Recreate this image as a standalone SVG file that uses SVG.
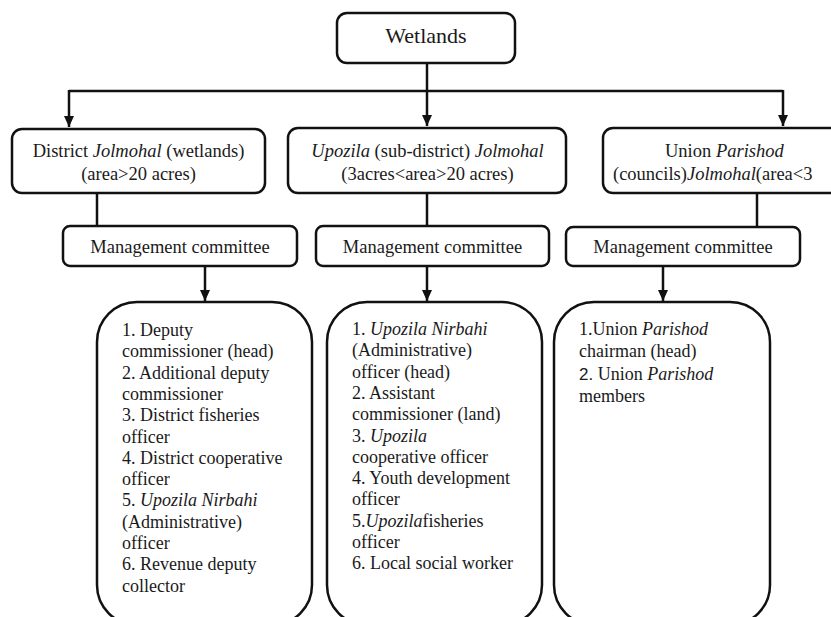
<svg xmlns="http://www.w3.org/2000/svg" width="831" height="617" viewBox="0 0 831 617">
<style>
.box{fill:#fff;stroke:#111;stroke-width:2.5}
.ln{fill:none;stroke:#111;stroke-width:2.5}
.t{font-family:'Liberation Serif','Tinos','Times New Roman','DejaVu Serif',serif;fill:#1a1a1a}
.l2{font-size:18.5px}
.lst{font-size:18px}
.i{font-style:italic}
.s{font-family:'Liberation Sans',Arial,sans-serif;font-size:17px}
</style>
<defs>
<marker id="ah" markerUnits="userSpaceOnUse" markerWidth="12" markerHeight="12" viewBox="0 0 12 12" refX="11" refY="6" orient="auto">
<path d="M0,1 L11,6 L0,11 Z" fill="#111"/>
</marker>
</defs>
<rect width="831" height="617" fill="#fff"/>
<g id="connectors">
<path class="ln" d="M427,63 V126" marker-end="url(#ah)"/>
<path class="ln" d="M69,91 H783"/>
<path class="ln" d="M69,90 V127" marker-end="url(#ah)"/>
<path class="ln" d="M783,90 V126" marker-end="url(#ah)"/>
<path class="ln" d="M97,193 V226"/>
<path class="ln" d="M427,193 V226"/>
<path class="ln" d="M757,193 V227"/>
<path class="ln" d="M205,266 V301" marker-end="url(#ah)"/>
<path class="ln" d="M427,266 V301" marker-end="url(#ah)"/>
<path class="ln" d="M663,266 V301" marker-end="url(#ah)"/>
</g>
<g id="wetlands">
<rect class="box" x="337" y="13" width="178" height="50" rx="10"/>
<text class="t" x="426" y="43" font-size="22" text-anchor="middle">Wetlands</text>
</g>
<g id="district">
<rect class="box" x="12" y="129" width="253" height="64" rx="10"/>
<text class="t l2" x="138.5" y="157" text-anchor="middle">District <tspan class="i">Jolmohal</tspan> (wetlands)</text>
<text class="t l2" x="138.5" y="180" text-anchor="middle">(area&gt;20 acres)</text>
</g>
<g id="upozila">
<rect class="box" x="288" y="128" width="278" height="65" rx="10"/>
<text class="t l2" x="427.5" y="157" text-anchor="middle"><tspan class="i">Upozila</tspan> (sub-district) <tspan class="i">Jolmohal</tspan></text>
<text class="t l2" x="427.5" y="180" text-anchor="middle">(3acres&lt;area&gt;20 acres)</text>
</g>
<g id="union">
<rect class="box" x="603" y="128" width="240" height="65" rx="10"/>
<text class="t l2" x="665" y="157">Union <tspan class="i">Parishod</tspan></text>
<text class="t l2" x="613" y="180">(councils)<tspan class="i">Jolmohal</tspan>(area&lt;3</text>
</g>
<g id="mgmt1">
<rect class="box" x="63" y="226" width="234" height="40" rx="7"/>
<text class="t l2" x="180" y="253" text-anchor="middle">Management committee</text>
</g>
<g id="mgmt2">
<rect class="box" x="316" y="226" width="233" height="40" rx="7"/>
<text class="t l2" x="432.5" y="253" text-anchor="middle">Management committee</text>
</g>
<g id="mgmt3">
<rect class="box" x="566" y="227" width="234" height="39" rx="7"/>
<text class="t l2" x="683" y="253" text-anchor="middle">Management committee</text>
</g>
<g id="list1">
<rect class="box" x="97" y="302" width="215" height="323" rx="40"/>
<text class="t lst">
<tspan x="122" y="336">1. Deputy</tspan>
<tspan x="122" y="357.3">commissioner (head)</tspan>
<tspan x="122" y="378.6">2. Additional deputy</tspan>
<tspan x="122" y="399.9">commissioner</tspan>
<tspan x="122" y="421.2">3. District fisheries</tspan>
<tspan x="122" y="442.5">officer</tspan>
<tspan x="122" y="463.8">4. District cooperative</tspan>
<tspan x="122" y="485.1">officer</tspan>
<tspan x="122" y="506.4">5. <tspan class="i">Upozila Nirbahi</tspan></tspan>
<tspan x="122" y="527.7">(Administrative)</tspan>
<tspan x="122" y="549">officer</tspan>
<tspan x="122" y="570.3">6. Revenue deputy</tspan>
<tspan x="122" y="591.6">collector</tspan>
</text>
</g>
<g id="list2">
<rect class="box" x="327" y="302" width="215" height="323" rx="40"/>
<text class="t lst">
<tspan x="352" y="335">1. <tspan class="i">Upozila Nirbahi</tspan></tspan>
<tspan x="352" y="356.3">(Administrative)</tspan>
<tspan x="352" y="377.6">officer (head)</tspan>
<tspan x="352" y="398.9">2. Assistant</tspan>
<tspan x="352" y="420.2">commissioner (land)</tspan>
<tspan x="352" y="441.5">3. <tspan class="i">Upozila</tspan></tspan>
<tspan x="352" y="462.8">cooperative officer</tspan>
<tspan x="352" y="484.1">4. Youth development</tspan>
<tspan x="352" y="505.4">officer</tspan>
<tspan x="352" y="526.7">5.<tspan class="i">Upozila</tspan>fisheries</tspan>
<tspan x="352" y="548">officer</tspan>
<tspan x="352" y="569.3">6. Local social worker</tspan>
</text>
</g>
<g id="list3">
<rect class="box" x="554" y="302" width="216" height="323" rx="40"/>
<text class="t lst">
<tspan x="579" y="335">1.Union <tspan class="i">Parishod</tspan></tspan>
<tspan x="579" y="357">chairman (head)</tspan>
<tspan x="579" y="380"><tspan class="s">2.</tspan> Union <tspan class="i">Parishod</tspan></tspan>
<tspan x="579" y="402">members</tspan>
</text>
</g>
</svg>
